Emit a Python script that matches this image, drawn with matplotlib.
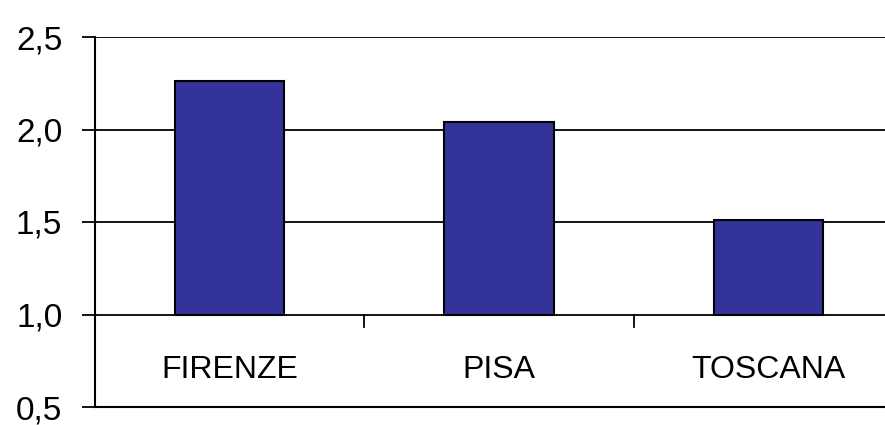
import matplotlib
matplotlib.use("Agg")
import matplotlib.pyplot as plt

categories = ["FIRENZE", "PISA", "TOSCANA"]
values = [2.26, 2.04, 1.51]
yticks = [0.5, 1.0, 1.5, 2.0, 2.5]
ytick_labels = ["0,5", "1,0", "1,5", "2,0", "2,5"]
base = 1.0

plt.rcParams['font.family'] = ["Liberation Sans", "DejaVu Sans"]

fig = plt.figure(figsize=(8.85, 4.25), dpi=100)
ax = fig.add_axes([95/885, 18/425, 808/885, 370/425])
ax.set_xlim(-0.5, 2.5)
ax.set_ylim(0.5, 2.5)

for y in yticks[1:]:
    ax.axhline(y, color="black", lw=1.3, zorder=1)

x = list(range(len(categories)))
ax.bar(x, [v - base for v in values], bottom=base, width=0.405,
       color="#333399", edgecolor="black", linewidth=1.5, zorder=3)

for i, c in enumerate(categories):
    ax.text(i, 0.7, c, ha="center", va="center", fontsize=23)

# category boundary ticks on the 1.0 line
for b in [0.5, 1.5]:
    ax.plot([b, b], [base, base - 0.07], color="black", lw=1.3, zorder=2, clip_on=False)

ax.set_xticks([])
ax.set_yticks(yticks)
ax.set_yticklabels(ytick_labels, fontsize=24)
ax.tick_params(axis="y", length=9.5, width=1.3, pad=14)
for s in ["top", "right"]:
    ax.spines[s].set_visible(False)
ax.spines["left"].set_linewidth(1.5)
ax.spines["bottom"].set_linewidth(1.5)

fig.savefig("out.png", dpi=100)
